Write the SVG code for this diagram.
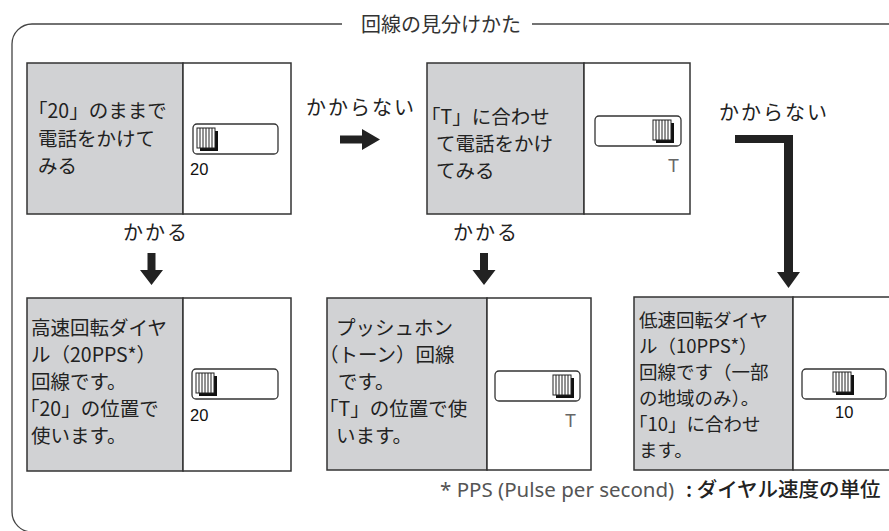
<svg xmlns="http://www.w3.org/2000/svg" xmlns:xlink="http://www.w3.org/1999/xlink" width="889" height="531" viewBox="0 0 889 531">
<style>
.frame{fill:none;stroke:#444;stroke-width:1.3}
.gray{fill:#d1d2d4;stroke:#333;stroke-width:1.5}
.white{fill:#fff;stroke:#333;stroke-width:1.5}
.jp{font-family:"Noto Sans CJK JP","Noto Sans",sans-serif;font-size:19.5px;fill:#222}
.jps{font-family:"Noto Sans CJK JP","Noto Sans",sans-serif;font-size:18.5px;fill:#222}
.lbl{font-family:"Noto Sans CJK JP","Noto Sans",sans-serif;font-size:20px;fill:#222;letter-spacing:2px;text-anchor:middle}
.title{font-family:"Noto Sans CJK JP","Noto Sans",sans-serif;font-size:20px;fill:#333}
.num{font-family:"Liberation Sans",Arial,sans-serif;font-size:16.5px;fill:#111}
.tl{font-family:"Liberation Sans",Arial,sans-serif;font-size:18px;fill:#666}
.sw{fill:#fff;stroke:#333;stroke-width:1.3}
.arrow{fill:#222}
.foot{font-family:"Noto Sans","Noto Sans CJK JP",sans-serif;font-size:20.5px;fill:#555}
.footjp{font-family:"Noto Sans CJK JP",sans-serif;font-size:20.5px;font-weight:500;fill:#222}
</style>
<defs>
<g id="knob">
<rect x="3" y="3" width="18" height="20" fill="#111"/>
<rect x="0" y="0" width="18" height="20" fill="#fff" stroke="#222" stroke-width="1"/>
<path d="M3 0V20M6 0V20M9 0V20M12 0V20M15 0V20" stroke="#222" stroke-width="1"/>
</g>
</defs>
<rect width="889" height="531" fill="#fff"/>

<g id="frame">
<path class="frame" d="M342,24 H32 A20,20 0 0 0 12,44 V512 A20,20 0 0 0 32,532"/>
<path class="frame" d="M532,24 H895"/>
<text class="title" x="361" y="32">回線の見分けかた</text>
</g>

<g id="connectors">
<g id="arrow-right">
<polygon class="arrow" points="340,135.5 362,135.5 362,129 380,139.5 362,150 362,143.5 340,143.5"/>
<text class="lbl" x="361" y="115">かからない</text>
</g>
<g id="arrow-L">
<polygon class="arrow" points="735,135 793,135 793,272 800,272 788.5,288 777,272 784,272 784,143 735,143"/>
<text class="lbl" x="774" y="120">かからない</text>
</g>
<g id="arrow-down1">
<polygon class="arrow" points="147.5,253 155.5,253 155.5,270 163,270 151.5,285 140,270 147.5,270"/>
<text class="lbl" x="156" y="240">かかる</text>
</g>
<g id="arrow-down2">
<polygon class="arrow" points="480,253 488,253 488,270 495.5,270 484,285 472.5,270 480,270"/>
<text class="lbl" x="486" y="240">かかる</text>
</g>
</g>

<g id="node-try20">
<rect class="gray" x="27" y="63" width="156" height="151"/>
<rect class="white" x="183" y="63" width="108" height="151"/>
<text class="jp" x="28" y="118">「20」のままで</text>
<text class="jp" x="38" y="146">電話をかけて</text>
<text class="jp" x="38" y="173">みる</text>
<rect class="sw" x="193" y="124" width="85" height="30" rx="4"/>
<use xlink:href="#knob" x="197" y="128"/>
<text class="num" x="190" y="175">20</text>
</g>

<g id="node-tryT">
<rect class="gray" x="427" y="63" width="157" height="151"/>
<rect class="white" x="584" y="63" width="106" height="151"/>
<text class="jp" x="421" y="124">「T」に合わせ</text>
<text class="jp" x="436" y="151">て電話をかけ</text>
<text class="jp" x="436" y="178">てみる</text>
<rect class="sw" x="595" y="116" width="86" height="30" rx="4"/>
<use xlink:href="#knob" x="653" y="120"/>
<text class="tl" x="668" y="172">T</text>
</g>

<g id="node-20pps">
<rect class="gray" x="27" y="298" width="156" height="173"/>
<rect class="white" x="183" y="298" width="108" height="173"/>
<text class="jp" x="31" y="335">高速回転ダイヤ</text>
<text class="jp" x="31" y="362">ル（20PPS*）</text>
<text class="jp" x="31" y="389">回線です。</text>
<text class="jp" x="20" y="416">「20」の位置で</text>
<text class="jp" x="31" y="443">使います。</text>
<rect class="sw" x="192" y="369" width="86" height="30" rx="4"/>
<use xlink:href="#knob" x="196" y="373"/>
<text class="num" x="190" y="421">20</text>
</g>

<g id="node-tone">
<rect class="gray" x="327" y="298" width="160" height="172"/>
<rect class="white" x="487" y="298" width="104" height="172"/>
<text class="jp" x="336" y="335">プッシュホン</text>
<text class="jp" x="319" y="362">（トーン）回線</text>
<text class="jp" x="338" y="389">です。</text>
<text class="jp" x="319" y="416">「T」の位置で使</text>
<text class="jp" x="336" y="443">います。</text>
<rect class="sw" x="495" y="371" width="85" height="30" rx="4"/>
<use xlink:href="#knob" x="553" y="375"/>
<text class="tl" x="565" y="427">T</text>
</g>

<g id="node-10pps">
<rect class="gray" x="634" y="297" width="159" height="173"/>
<rect class="white" x="793" y="297" width="110" height="173"/>
<text class="jps" x="639" y="327">低速回転ダイヤ</text>
<text class="jps" x="639" y="353">ル（10PPS*）</text>
<text class="jps" x="639" y="379">回線です（一部</text>
<text class="jps" x="639" y="405">の地域のみ）。</text>
<text class="jps" x="629" y="431">「10」に合わせ</text>
<text class="jps" x="639" y="457">ます。</text>
<rect class="sw" x="802" y="369" width="84" height="30" rx="4"/>
<use xlink:href="#knob" x="833" y="372"/>
<text class="num" x="835" y="418">10</text>
</g>

<g id="footnote">
<text class="foot" x="440" y="497">* PPS (Pulse per second)  <tspan class="footjp" x="686">: ダイヤル速度の単位</tspan></text>
</g>
</svg>
